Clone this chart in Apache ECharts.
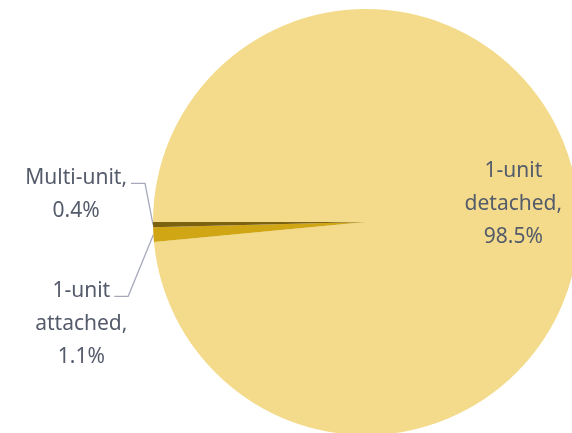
<!DOCTYPE html>
<html><head><meta charset="utf-8">
<script src="https://cdn.jsdelivr.net/npm/echarts@6/dist/echarts.min.js"></script>
<style>html,body{margin:0;padding:0;background:#fff}#c{width:572px;height:433px}</style>
</head><body><div id="c"></div>
<script>
const categories = ['1-unit detached', '1-unit attached', 'Multi-unit'];
const labelLines = [['1-unit', 'detached,'], ['1-unit', 'attached,'], ['Multi-unit,']];
const shares = [98.5, 1.1, 0.4];
const colors = ['#F3DB8B', '#D1A614', '#7C6210'];

const font = { fontFamily: 'Noto Sans', fontSize: 21, lineHeight: 33, color: '#545B6B' };
const shifts = [{ dx: 38, dy: -13 }, { dx: 3, dy: 89 }, { dx: 3, dy: -30 }];

const ctx = document.createElement('canvas').getContext('2d');
ctx.font = font.fontSize + 'px "' + font.fontFamily + '"';
const measure = s => ctx.measureText(s).width;

const chart = echarts.init(document.getElementById('c'), null, { renderer: 'canvas' });
chart.setOption({
  animation: false,
  backgroundColor: '#ffffff',
  series: [{
    type: 'pie',
    center: [366, 222],
    radius: 213,
    startAngle: 180,
    clockwise: true,
    avoidLabelOverlap: false,
    itemStyle: { borderWidth: 0 },
    label: {
      show: true,
      position: 'outside',
      ...font,
      formatter: p => labelLines[p.dataIndex].concat([p.value.toFixed(1) + '%']).map(s => '{c|' + s + '}').join('\n'),
      rich: { c: { ...font, align: 'center' } }
    },
    labelLine: { show: true, length: 10, length2: 14, lineStyle: { color: '#A6A9BC', width: 1.3 } },
    labelLayout: p => {
      const s = shifts[p.dataIndex];
      if (p.dataIndex === 0 || !p.labelLinePoints) return s;
      const r = p.labelRect;
      const cx = r.x + s.dx + r.width / 2;
      const lx = cx + measure(labelLines[p.dataIndex][0]) / 2 + 4;
      const ly = r.y + s.dy + font.lineHeight / 2 + 5;
      const start = p.labelLinePoints[0];
      return Object.assign({}, s, { labelLinePoints: [start, [lx + 14, ly], [lx, ly]] });
    },
    data: categories.map((name, i) => ({
      name, value: shares[i],
      itemStyle: { color: colors[i] },
      label: i === 0 ? { position: 'inside' } : {},
      labelLine: i === 0 ? { show: false } : {}
    }))
  }]
});
</script></body></html>
